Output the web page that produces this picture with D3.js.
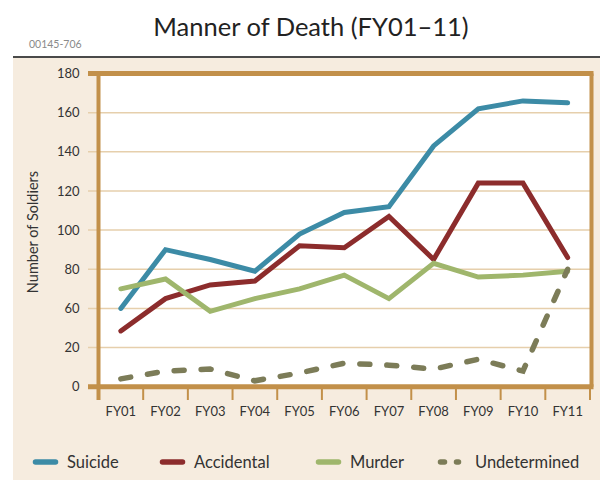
<!DOCTYPE html>
<html>
<head>
<meta charset="utf-8">
<script src="https://cdn.jsdelivr.net/npm/d3@7"></script>
<style>
  html, body { margin: 0; padding: 0; background: #ffffff; }
  svg { display: block; font-family: Lato, "Open Sans", sans-serif; }
</style>
</head>
<body>
<svg id="chart" width="600" height="480"></svg>
<script>
// Fiscal years on the x axis
const years = ["FY01", "FY02", "FY03", "FY04", "FY05", "FY06", "FY07", "FY08", "FY09", "FY10", "FY11"];

// Deaths per year by manner
const suicide      = [60, 90, 85, 79, 98, 109, 112, 143, 162, 166, 165];
const accidental   = [37, 65, 72, 74, 92, 91, 107, 85, 124, 124, 86];
const murder       = [70, 75, 57, 65, 70, 77, 65, 83, 76, 77, 79];
const undetermined = [4, 8, 9, 3, 7, 12, 11, 9, 14, 8, 80];

// Values printed along the y axis
const yTicks = [0, 20, 60, 80, 100, 120, 140, 160, 180];

const seriesNames = ["Suicide", "Accidental", "Murder", "Undetermined"];
const seriesColors = ["#3c8ba6", "#8c2c2c", "#9fb66c", "#7c7c58"];
const seriesData = [suicide, accidental, murder, undetermined];

const svg = d3.select("#chart");

// Page background and header rule
svg.append("rect").attr("x", 13).attr("y", 57).attr("width", 587).attr("height", 423).attr("fill", "#f6ecdf");
svg.append("line").attr("x1", 13).attr("x2", 600).attr("y1", 57).attr("y2", 57)
  .attr("stroke", "#4a4a4a").attr("stroke-width", 2);

svg.append("text").attr("x", 311).attr("y", 36).attr("text-anchor", "middle")
  .attr("font-size", 25.5).attr("fill", "#222").text("Manner of Death (FY01\u201311)");
svg.append("text").attr("x", 29).attr("y", 48)
  .attr("font-size", 10.5).attr("fill", "#8a8a8a").text("00145-706");

// Plot area
const plotL = 98.5, plotR = 591.5, plotT = 73.5, plotB = 386.7;

const x = d3.scaleBand().domain(years).range([plotL, plotR - 1.5]);
// Tick positions along the printed axis are evenly spaced
const y = d3.scaleLinear()
  .domain(yTicks)
  .range(yTicks.map((d, i) => plotB - i * (plotB - plotT) / (yTicks.length - 1)));

const frame = "#c2904a";
const grid = "#e6cfac";

svg.append("rect").attr("x", plotL).attr("y", plotT).attr("width", plotR - plotL).attr("height", plotB - plotT)
  .attr("fill", "#ffffff");

// Gridlines, which also poke out left of the axis as ticks
svg.append("g").selectAll("line")
  .data(yTicks.filter(d => d > 0 && d < 180))
  .join("line")
  .attr("x1", 88).attr("x2", plotR)
  .attr("y1", d => y(d)).attr("y2", d => y(d))
  .attr("stroke", grid).attr("stroke-width", 1.5);

// Y axis labels
const yAxis = svg.append("g")
  .attr("transform", `translate(${plotL},0)`)
  .call(d3.axisLeft(y).tickValues(yTicks).tickSize(0).tickPadding(19).tickFormat(d3.format("d")));
yAxis.select(".domain").remove();
yAxis.selectAll("text").attr("font-size", 13).attr("fill", "#333").attr("font-family", "Lato, sans-serif");

// X axis labels
const xAxis = svg.append("g")
  .attr("transform", `translate(0,${plotB})`)
  .call(d3.axisBottom(x).tickSize(0).tickPadding(20));
xAxis.select(".domain").remove();
xAxis.selectAll("text").attr("font-size", 13).attr("fill", "#333").attr("font-family", "Lato, sans-serif");

// Tick marks between the year bands
const bounds = years.map(d => x(d)).concat([x.range()[1]]);
svg.append("g").selectAll("line")
  .data(bounds.slice(1))
  .join("line")
  .attr("x1", d => d).attr("x2", d => d)
  .attr("y1", plotB).attr("y2", 400)
  .attr("stroke", frame).attr("stroke-width", 2);

// Series lines
const line = d3.line()
  .x((d, i) => x(years[i]) + x.bandwidth() / 2)
  .y(d => y(d));

seriesData.forEach((vals, k) => {
  const path = svg.append("path")
    .datum(vals)
    .attr("d", line)
    .attr("fill", "none")
    .attr("stroke", seriesColors[k])
    .attr("stroke-width", 5)
    .attr("stroke-linejoin", "miter")
    .attr("stroke-linecap", "round");
  if (seriesNames[k] === "Undetermined") {
    path.attr("stroke-dasharray", "10,17").attr("stroke-width", 5.5);
  }
});

// Frame
svg.append("line").attr("x1", 88).attr("x2", plotR + 2).attr("y1", plotT).attr("y2", plotT)
  .attr("stroke", frame).attr("stroke-width", 5);
svg.append("line").attr("x1", 88).attr("x2", plotR + 2).attr("y1", plotB).attr("y2", plotB)
  .attr("stroke", frame).attr("stroke-width", 5);
svg.append("line").attr("x1", plotL).attr("x2", plotL).attr("y1", plotT).attr("y2", 400)
  .attr("stroke", frame).attr("stroke-width", 4);
svg.append("line").attr("x1", plotR).attr("x2", plotR).attr("y1", plotT).attr("y2", plotB)
  .attr("stroke", frame).attr("stroke-width", 4);

// Y axis title
svg.append("text")
  .attr("transform", "translate(38,232) rotate(-90)")
  .attr("text-anchor", "middle").attr("font-size", 14.5).attr("fill", "#333")
  .text("Number of Soldiers");

// Legend: swatch start and label start for each entry
const legendSwatchX = [33, 160, 316, 438];
const legendTextX = [67, 194, 350, 475];
const legend = svg.append("g");
seriesNames.forEach((name, k) => {
  const g = legend.append("g").attr("transform", "translate(0,462)");
  const sw = g.append("line")
    .attr("x1", legendSwatchX[k] + 2.5).attr("x2", legendSwatchX[k] + 22.5)
    .attr("y1", 0).attr("y2", 0)
    .attr("stroke", seriesColors[k]).attr("stroke-width", 5.5).attr("stroke-linecap", "round");
  if (name === "Undetermined") {
    sw.attr("stroke-dasharray", "4,12").attr("x2", legendSwatchX[k] + 20.5);
  }
  g.append("text").attr("x", legendTextX[k]).attr("y", 5.5)
    .attr("font-size", 16.5).attr("fill", "#333").text(name);
});
</script>
</body>
</html>
